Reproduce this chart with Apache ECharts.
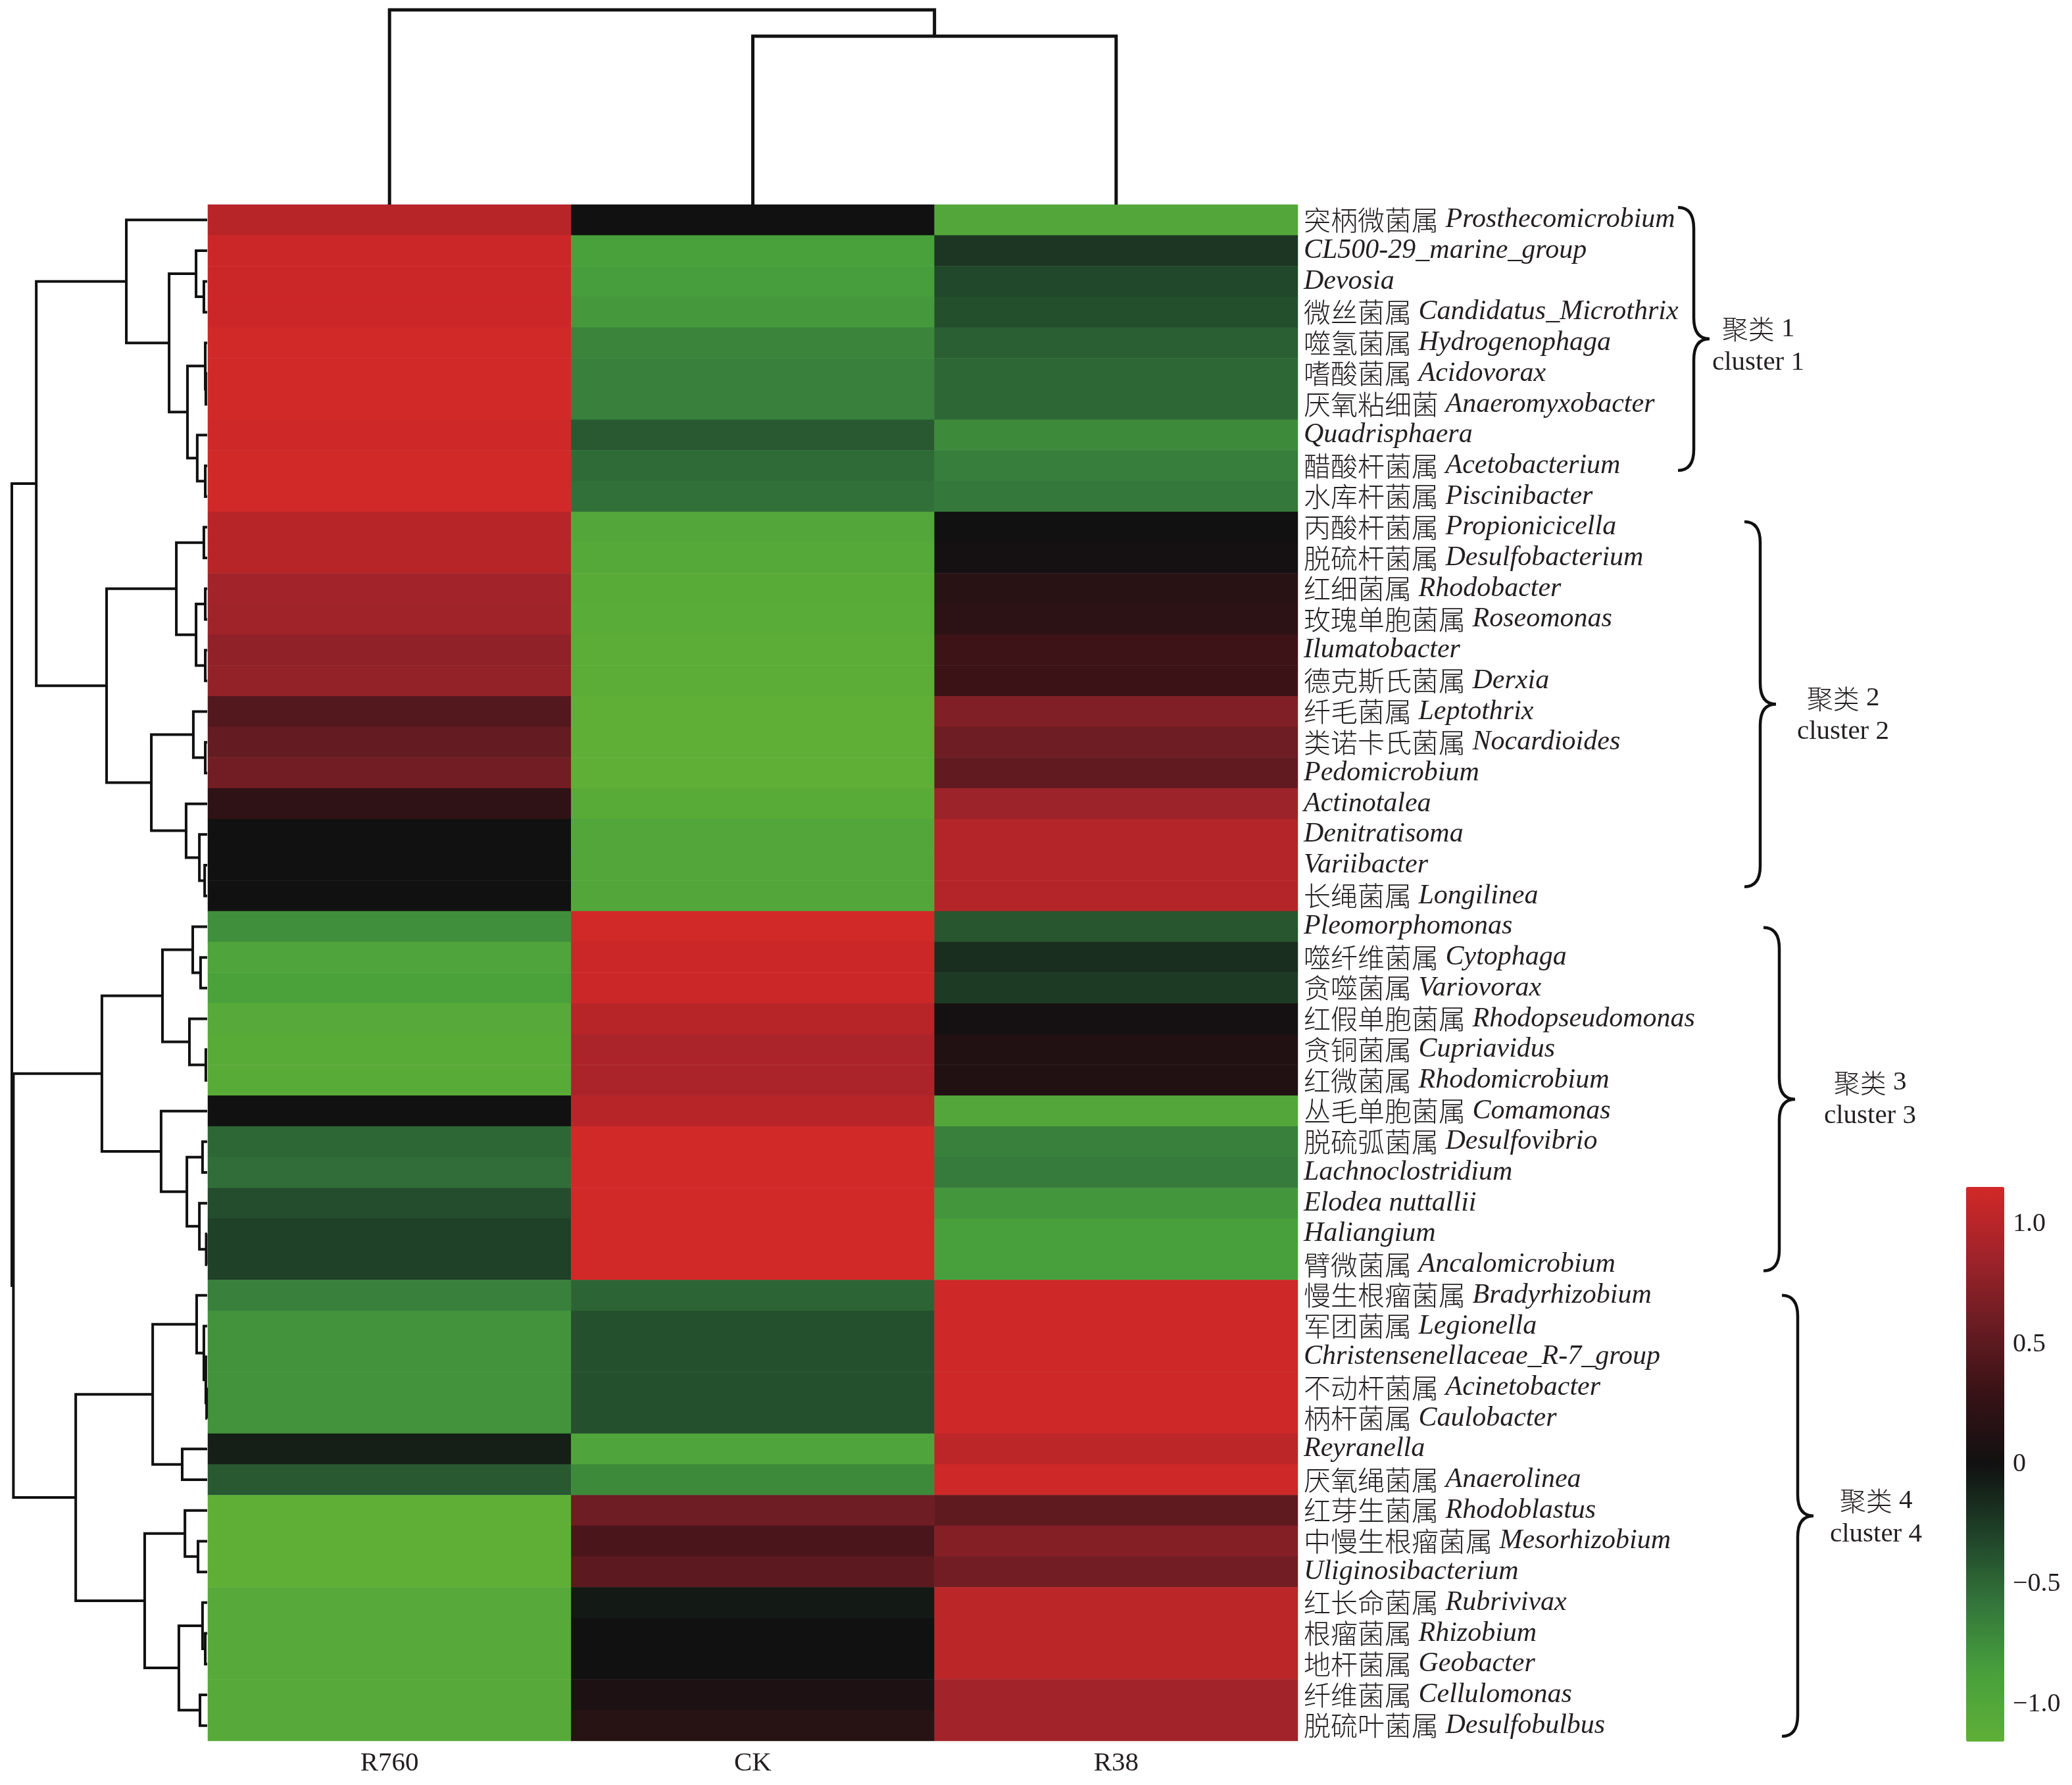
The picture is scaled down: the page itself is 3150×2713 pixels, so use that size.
<!DOCTYPE html>
<html><head><meta charset="utf-8">
<script src="https://cdn.jsdelivr.net/npm/echarts@6/dist/echarts.min.js"></script>
<style>html,body{margin:0;padding:0;background:#fff}#c{width:3150px;height:2713px}</style>
</head><body><div id="c"></div>
<script>
// ---------------- data ----------------
const samples = ['R760', 'CK', 'R38'];
const cnNames = ['突柄微菌属','','','微丝菌属','噬氢菌属','嗜酸菌属','厌氧粘细菌','','醋酸杆菌属','水库杆菌属',
 '丙酸杆菌属','脱硫杆菌属','红细菌属','玫瑰单胞菌属','','德克斯氏菌属','纤毛菌属','类诺卡氏菌属','','','','','长绳菌属',
 '','噬纤维菌属','贪噬菌属','红假单胞菌属','贪铜菌属','红微菌属','丛毛单胞菌属','脱硫弧菌属','','','','臂微菌属',
 '慢生根瘤菌属','军团菌属','','不动杆菌属','柄杆菌属','','厌氧绳菌属','红芽生菌属','中慢生根瘤菌属','','红长命菌属','根瘤菌属','地杆菌属','纤维菌属','脱硫叶菌属'];
const latinNames = ['Prosthecomicrobium','CL500-29_marine_group','Devosia','Candidatus_Microthrix','Hydrogenophaga','Acidovorax','Anaeromyxobacter','Quadrisphaera','Acetobacterium','Piscinibacter',
 'Propionicicella','Desulfobacterium','Rhodobacter','Roseomonas','Ilumatobacter','Derxia','Leptothrix','Nocardioides','Pedomicrobium','Actinotalea','Denitratisoma','Variibacter','Longilinea',
 'Pleomorphomonas','Cytophaga','Variovorax','Rhodopseudomonas','Cupriavidus','Rhodomicrobium','Comamonas','Desulfovibrio','Lachnoclostridium','Elodea nuttallii','Haliangium','Ancalomicrobium',
 'Bradyrhizobium','Legionella','Christensenellaceae_R-7_group','Acinetobacter','Caulobacter','Reyranella','Anaerolinea','Rhodoblastus','Mesorhizobium','Uliginosibacterium','Rubrivivax','Rhizobium','Geobacter','Cellulomonas','Desulfobulbus'];

const r760 = [1.0,1.12,1.12,1.12,1.15,1.15,1.15,1.13,1.15,1.15,
 1.0,1.0,0.88,0.87,0.78,0.80,0.45,0.55,0.62,0.22,0.0,0.0,0.0,
 -0.75,-0.95,-0.9,-1.05,-1.08,-1.08,0.0,-0.5,-0.53,-0.35,-0.28,-0.28,
 -0.65,-0.78,-0.78,-0.78,-0.78,-0.08,-0.42,-1.15,-1.15,-1.15,-1.05,-1.05,-1.05,-1.05,-1.05];
const ck = [0.0,-0.88,-0.85,-0.82,-0.68,-0.65,-0.65,-0.42,-0.52,-0.55,
 -1.0,-1.03,-1.08,-1.09,-1.12,-1.12,-1.15,-1.15,-1.15,-1.08,-1.0,-1.0,-1.0,
 1.15,1.12,1.12,1.0,0.93,0.93,1.0,1.15,1.15,1.15,1.15,1.15,
 -0.48,-0.37,-0.37,-0.37,-0.37,-0.95,-0.72,0.6,0.4,0.5,-0.05,0.0,0.0,0.1,0.17];
const r38 = [-1.0,-0.22,-0.32,-0.36,-0.45,-0.5,-0.5,-0.72,-0.63,-0.6,
 0.0,0.03,0.18,0.21,0.33,0.31,0.7,0.6,0.53,0.85,0.98,0.98,0.98,
 -0.4,-0.17,-0.24,0.03,0.12,0.12,-1.0,-0.65,-0.62,-0.8,-0.87,-0.87,
 1.13,1.13,1.13,1.13,1.13,1.03,1.14,0.52,0.72,0.62,1.02,1.02,1.02,0.88,0.88];

// hierarchical clustering merges: [childA, childB, height]; leaves 0..n-1, merge k is node n+k
const rowLinkage = [
 [2,3,0.17],[1,50,0.57],[5,6,0.07],[4,52,0.10],[8,9,0.10],[7,54,0.51],[53,55,1.01],[51,56,1.95],[0,57,4.14],
 [10,11,0.17],[12,13,0.10],[14,15,0.10],[60,61,0.57],[59,62,1.58],[17,18,0.10],[16,64,0.71],[21,22,0.13],[20,66,0.40],[19,67,1.08],[65,68,2.86],[63,69,5.15],[58,70,8.75],
 [24,25,0.34],[23,72,0.74],[27,28,0.07],[26,74,0.91],[73,75,2.29],[30,31,0.24],[33,34,0.05],[32,78,0.40],[77,79,1.04],[29,80,2.36],[76,81,5.39],
 [38,39,0.03],[37,83,0.07],[36,84,0.17],[35,85,0.54],[40,41,1.28],[86,87,2.79],[43,44,0.47],[42,89,1.14],[46,47,0.10],[45,91,0.24],[48,49,0.37],[92,93,1.45],[90,94,3.20],[88,95,6.73],
 [82,96,9.92],[71,97,10.0]
];
const colLinkage = [[1,2,8.65],[0,3,10.0]];

const colorTicks = [-1, -0.5, 0, 0.5, 1];
const clusterCn = ['聚类','聚类','聚类','聚类'];
const clusterNum = ['1','2','3','4'];
const clusterEn = ['cluster 1','cluster 2','cluster 3','cluster 4'];
const clusterSpans = [[-0.41, 8.15], [9.82, 21.7], [23.03, 34.2], [35.0, 49.35]];

// ---------------- layout / style ----------------
const HM = {left: 316, top: 311, width: 1657, height: 2335};
const bracketX = [2575, 2676, 2705, 2733];
const labelX = [2673, 2802, 2843, 2852];
const labelDY = [10, 16, 0, 2];
const TXT = '#231f20';

function dendroSegments(linkage, n) {
  const pos = [], ht = [];
  for (let i = 0; i < n; i++) { pos[i] = i; ht[i] = 0; }
  return linkage.map(([a, b, h], k) => {
    pos[n + k] = (pos[a] + pos[b]) / 2; ht[n + k] = h;
    return [h, ht[a], pos[a], ht[b], pos[b]];
  });
}
const rowSegs = dendroSegments(rowLinkage, latinNames.length);
const colSegs = dendroSegments(colLinkage, samples.length);

const heatData = [];
[r760, ck, r38].forEach((arr, c) => arr.forEach((v, r) => heatData.push([c, r, v])));

const chart = echarts.init(document.getElementById('c'), null, {renderer: 'canvas'});
const option = {
  backgroundColor: '#fff',
  animation: false,
  grid: [
    {left: HM.left, top: HM.top, width: HM.width, height: HM.height},
    {left: 18, top: HM.top, width: HM.left - 1 - 18, height: HM.height},
    {left: HM.left, top: 15, width: HM.width, height: HM.top - 15},
    {left: 2989, top: 1804, width: 58, height: 843},
    {left: 2500, top: HM.top, width: 500, height: HM.height}
  ],
  xAxis: [
    {gridIndex: 0, type: 'category', data: samples, position: 'bottom',
     axisLine: {show: false}, axisTick: {show: false}, splitLine: {show: false},
     axisLabel: {margin: 14, fontSize: 41, fontFamily: 'Liberation Serif', color: TXT}},
    {gridIndex: 1, type: 'value', min: 0, max: 10, inverse: true, show: false},
    {gridIndex: 2, type: 'value', min: -0.5, max: 2.5, show: false},
    {gridIndex: 3, type: 'value', min: 0, max: 1, show: false},
    {gridIndex: 4, type: 'value', min: 0, max: 1, show: false}
  ],
  yAxis: [
    {gridIndex: 0, type: 'category', data: latinNames, inverse: true, position: 'right',
     axisLine: {show: false}, axisTick: {show: false}, splitLine: {show: false},
     axisLabel: {interval: 0, margin: 9, align: 'left',
       formatter: (v, i) => (cnNames[i] ? '{cn|' + cnNames[i] + '}{la| ' + v + '}' : '{la|' + v + '}'),
       rich: {
         cn: {fontFamily: 'Noto Sans CJK SC', fontSize: 41, color: TXT, fontWeight: 300},
         la: {fontFamily: 'Liberation Serif', fontStyle: 'italic', fontSize: 42, color: TXT}
       }}},
    {gridIndex: 1, type: 'value', min: -0.5, max: latinNames.length - 0.5, inverse: true, show: false},
    {gridIndex: 2, type: 'value', min: 0, max: 10, show: false},
    {gridIndex: 3, type: 'value', min: -1.155, max: 1.155, position: 'right',
     axisLine: {show: false}, axisTick: {show: false}, splitLine: {show: false},
     axisLabel: {customValues: colorTicks, margin: 13, fontSize: 40, fontFamily: 'Liberation Serif', color: TXT,
       formatter: v => v === 0 ? '0' : (v < 0 ? '\u2212' : '') + Math.abs(v).toFixed(1)}},
    {gridIndex: 4, type: 'value', min: -0.5, max: latinNames.length - 0.5, inverse: true, show: false}
  ],
  visualMap: {
    type: 'continuous', min: -1.155, max: 1.155, seriesIndex: 0, calculable: false,
    orient: 'vertical', left: 2989, top: 1804, itemWidth: 58, itemHeight: 843, padding: 0,
    text: null, hoverLink: false,
    inRange: {color: ['#5FAF37', '#48A03C', '#33753B', '#1F4228', '#111111', '#371216', '#691C22', '#A0232A', '#D22828']}
  },
  series: [
    {type: 'heatmap', xAxisIndex: 0, yAxisIndex: 0, data: heatData, emphasis: {disabled: true}, itemStyle: {borderWidth: 0}},
    {type: 'custom', xAxisIndex: 1, yAxisIndex: 1, data: rowSegs, silent: true,
     renderItem: (p, api) => {
       const h = api.value(0), ha = api.value(1), ya = api.value(2), hb = api.value(3), yb = api.value(4);
       return {type: 'polyline', shape: {points: [api.coord([ha, ya]), api.coord([h, ya]), api.coord([h, yb]), api.coord([hb, yb])]},
               style: {stroke: '#111', lineWidth: 4, fill: null}};
     }},
    {type: 'custom', xAxisIndex: 2, yAxisIndex: 2, data: colSegs, silent: true,
     renderItem: (p, api) => {
       const h = api.value(0), ha = api.value(1), xa = api.value(2), hb = api.value(3), xb = api.value(4);
       return {type: 'polyline', shape: {points: [api.coord([xa, ha]), api.coord([xa, h]), api.coord([xb, h]), api.coord([xb, hb])]},
               style: {stroke: '#111', lineWidth: 5, fill: null}};
     }},
    {type: 'custom', xAxisIndex: 4, yAxisIndex: 4, silent: true,
     data: clusterSpans.map((s, i) => [0, s[0], s[1], i]),
     renderItem: (p, api) => {
       const i = api.value(3);
       const y0 = api.coord([0, api.value(1)])[1], y1 = api.coord([0, api.value(2)])[1];
       const ym = (y0 + y1) / 2, xv = bracketX[i], w = 24, r = 32;
       const d = `M${xv - w},${y0} Q${xv},${y0} ${xv},${y0 + r} L${xv},${ym - r} Q${xv},${ym} ${xv + w},${ym} ` +
                 `Q${xv},${ym} ${xv},${ym + r} L${xv},${y1 - r} Q${xv},${y1} ${xv - w},${y1}`;
       const ly = ym + labelDY[i];
       return {type: 'group', children: [
         {type: 'path', shape: {pathData: d}, style: {stroke: '#111', lineWidth: 4.5, fill: null}},
         {type: 'text', x: labelX[i], y: ly - 25, style: {text: '{c|' + clusterCn[i] + '}{n| ' + clusterNum[i] + '}',
           align: 'center', verticalAlign: 'middle',
           rich: {c: {fontFamily: 'Noto Sans CJK SC', fontSize: 40, fill: TXT, fontWeight: 300}, n: {fontFamily: 'Liberation Serif', fontSize: 41, fill: TXT}}}},
         {type: 'text', x: labelX[i], y: ly + 26, style: {text: clusterEn[i], align: 'center', verticalAlign: 'middle',
           fontFamily: 'Liberation Serif', fontSize: 41, fill: TXT}}
       ]};
     }}
  ]
};
chart.setOption(option);
</script>
</body></html>
